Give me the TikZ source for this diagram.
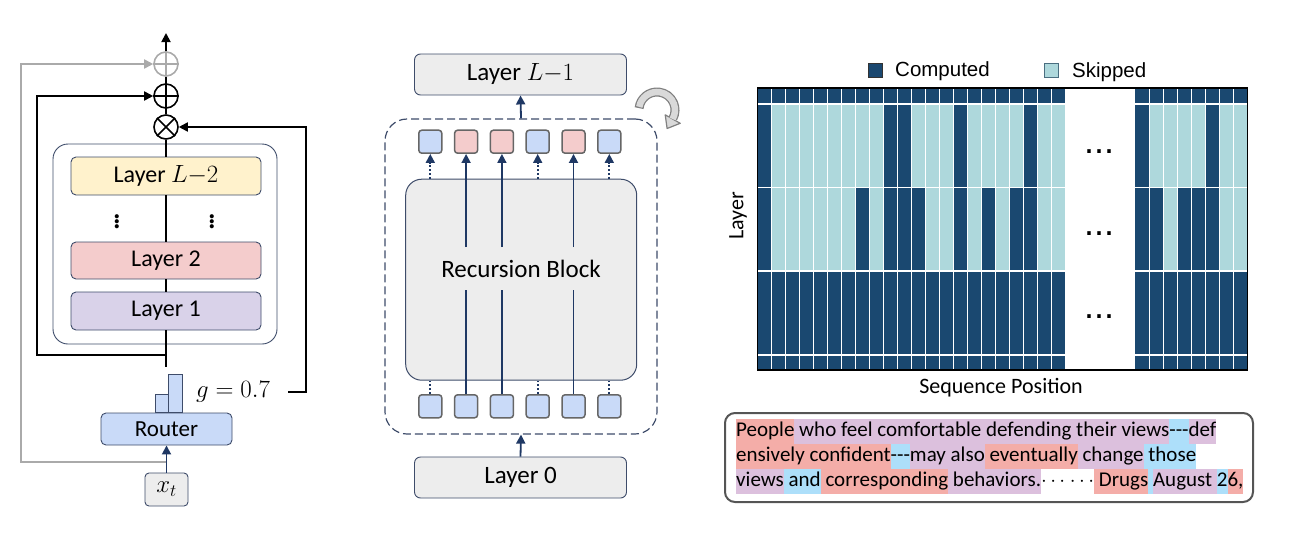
\documentclass[tikz,border=0pt]{standalone}
\usepackage{fontspec}
\setmainfont{Carlito}
\newfontfamily\arialf{Liberation Sans}
\usetikzlibrary{arrows.meta,calc}
\definecolor{navy}{HTML}{1F3864}
\definecolor{bdr}{HTML}{3E4C6A}
\definecolor{lgray}{HTML}{EDEDED}
\definecolor{lblue}{HTML}{C9DAF8}
\definecolor{lpink}{HTML}{F4CCCC}
\definecolor{lyel}{HTML}{FFF2CC}
\definecolor{llav}{HTML}{D9D2E9}
\definecolor{sqb}{HTML}{666666}
\definecolor{gdark}{HTML}{1A4870}
\definecolor{glight}{HTML}{AED8DC}
\definecolor{hsal}{HTML}{F4ADA8}
\definecolor{hlav}{HTML}{DCC0DD}
\definecolor{hblu}{HTML}{ADDFFA}
\definecolor{skipb}{HTML}{4A6E80}
\definecolor{rgray}{HTML}{AAAAAA}
\definecolor{rotout}{HTML}{808080}
\definecolor{rotin}{HTML}{D9D9D9}
\definecolor{tbframe}{HTML}{555555}
\newcommand{\hlt}[2]{{\setlength{\fboxsep}{0pt}\colorbox{#1}{#2\strut}}}
\newcommand{\tdash}{-\kern0pt-\kern0pt-}
\begin{document}
\begin{tikzpicture}[x=1pt,y=-1pt,
  arr/.style={-{Triangle[length=9pt,width=9pt]}},
  lbox/.style={draw=bdr, line width=0.9pt, rounded corners=5pt, minimum width=190pt, minimum height=38pt, inner sep=0pt, font=\fontsize{24}{28}\selectfont},
  opc/.style={circle, draw, line width=1.6pt, minimum size=24pt, inner sep=0pt},
  mbox/.style={draw=bdr, fill=lgray, line width=0.9pt, rounded corners=6pt, minimum width=212pt, minimum height=41pt, inner sep=0pt, font=\fontsize{25}{30}\selectfont},
  tok/.style={draw=sqb, line width=1.5pt, rounded corners=3pt, minimum size=23pt, inner sep=0pt},
  conn/.style={navy, line width=1.8pt},
  blk/.style={black, line width=1.8pt},
  dotc/.style={navy, line width=1.8pt, dash pattern=on 2pt off 2pt},
  wline/.style={white, line width=1.4pt}]
\useasboundingbox (0,0) rectangle (1316,538);

% ---------------- left panel ----------------
\node[opc, draw=rgray] (pg) at (166,64) {};
\draw[rgray, line width=1.6pt] (pg.north)--(pg.south) (pg.west)--(pg.east);
\node[opc] (op) at (166,96) {};
\draw[line width=1.6pt] (op.north)--(op.south) (op.west)--(op.east);
\node[opc] (ot) at (166,127) {};
\draw[line width=1.6pt] (ot.north west)--(ot.south east) (ot.north east)--(ot.south west);

\node[draw=bdr, line width=0.9pt, rounded corners=15pt, minimum width=224pt, minimum height=200pt] (ob) at (165,244) {};
\node[lbox, fill=lyel] (l3) at (166,176) {Layer $L{-}2$};
\node[font=\fontsize{34}{40}\selectfont, inner sep=0pt] (d1) at (117,219) {$\vdots$};
\node[font=\fontsize{34}{40}\selectfont, inner sep=0pt] (d2) at (212,219) {$\vdots$};
\node[lbox, fill=lpink, minimum height=37pt] (l2) at (166,260.5) {Layer 2};
\node[lbox, fill=llav] (la) at (166,311) {Layer 1};

\coordinate (bot) at (166,367);
\coordinate (res) at (166,355);
\draw[blk] (ot.south) -- (l3.north);
\draw[blk] (l3.south) -- (l2.north);
\draw[blk] (l2.south) -- (la.north);
\draw[blk] (la.south) -- (bot);
\draw[blk, arr] (res) -- ++(-129,0) |- (op.west);
\draw[blk] (ot.north) -- (op.south);
\draw[blk] (op.north) -- (pg.south);
\coordinate (out) at (166,33);
\draw[blk, arr] (pg.north) -- (out);

\node[draw=bdr, fill=lblue, line width=0.8pt, minimum width=13pt, minimum height=18pt, inner sep=0pt] (bar1) at (161.5,403) {};
\node[draw=bdr, fill=lblue, line width=0.8pt, minimum width=14pt, minimum height=38pt, inner sep=0pt] (bar2) at (175,393) {};
\node[lbox, fill=lblue, minimum width=131pt, minimum height=32pt, font=\fontsize{23}{27}\selectfont] (rt) at (166.5,429) {Router};
\node[font=\fontsize{23}{27}\selectfont] (gl) at (233,392) {$g = 0.7$};
\coordinate (gs) at (288,392);
\draw[blk, arr] (gs) -- ++(18,0) |- (ot.east);

\node[draw=bdr, fill=lgray, line width=0.9pt, rounded corners=4pt, minimum width=43pt, minimum height=33pt, inner sep=0pt, font=\fontsize{24}{28}\selectfont] (xt) at (166.5,489.5) {$x_t$};
\draw[conn, arr] (xt.north) -- (rt.south);
\coordinate (gsrc) at (166,462);
\draw[rgray, line width=1.8pt, arr] (gsrc) -- ++(-145,0) |- (pg.west);

% ---------------- middle panel ----------------
\node[mbox] (lL) at (520.5,74.5) {Layer $L{-}1$};
\node[draw=bdr, line width=1.2pt, dash pattern=on 8pt off 4pt, rounded corners=22pt, minimum width=272pt, minimum height=315pt] (db) at (521,276.5) {};
\node[draw=bdr, fill=lgray, line width=1pt, rounded corners=16pt, minimum width=231pt, minimum height=201pt] (rb) at (521.2,279.7) {};
\node[font=\fontsize{25}{30}\selectfont] (rbt) at (521,269) {Recursion Block};
\node[mbox] (l0) at (520.5,477.5) {Layer 0};
\draw[conn, arr] (db.north) -- (lL.south);
\draw[conn, arr] (l0.north) -- (db.south);

\foreach \i/\c in {1/lblue,2/lpink,3/lpink,4/lblue,5/lpink,6/lblue}{
  \node[tok, fill=\c] (t\i) at (430.3+35.8*\i-35.8,141.7) {};
  \node[tok, fill=lblue] (b\i) at (430.3+35.8*\i-35.8,406.3) {};
}
\coordinate (gapb) at (0,290);
\coordinate (gapt) at (0,247);
\foreach \i in {2,3,5}{
  \draw[conn] (b\i.north) -- (b\i.north |- gapb);
  \draw[conn, arr] (t\i.south |- gapt) -- (t\i.south);
}
\foreach \i in {1,4,6}{
  \draw[dotc, arr] (t\i.south |- rb.north) -- (t\i.south);
  \draw[dotc] (b\i.north) -- (b\i.north |- rb.south);
}
% rotation arrow
\draw[line width=9pt, rotout] (657,110) ++(186:18) arc[start angle=186, end angle=388, radius=18];
\filldraw[fill=rotin, draw=rotout, line width=1.2pt, line join=round] (680.2,123.3) -- (667.1,128.5) -- (665.2,114.8) -- cycle;
\draw[line width=6.5pt, rotin] (657,110) ++(190:18) arc[start angle=190, end angle=390, radius=18];

% ---------------- right panel ----------------
\fill[gdark] (757.5,88) rectangle (1065.5,370);
\fill[gdark] (1135.3,88) rectangle (1247.3,370);
\foreach \v [count=\i from 0] in {1,0,0,0,0,0,0,0,0,1,1,0,0,0,1,0,0,0,0,1,0,0}
  {\ifnum\v=0 \fill[glight] (757.5+14*\i,104) rectangle ++(14,83.5);\fi}
\foreach \v [count=\i from 0] in {1,0,0,0,0,0,0,1,0,1,1,1,0,0,1,0,1,0,1,1,0,0}
  {\ifnum\v=0 \fill[glight] (757.5+14*\i,187.5) rectangle ++(14,83.5);\fi}
\foreach \v [count=\i from 0] in {1,0,0,0,0,1,0,0}
  {\ifnum\v=0 \fill[glight] (1135.3+14*\i,104) rectangle ++(14,83.5);\fi}
\foreach \v [count=\i from 0] in {1,1,0,1,1,1,0,0}
  {\ifnum\v=0 \fill[glight] (1135.3+14*\i,187.5) rectangle ++(14,83.5);\fi}
\foreach \k in {1,...,22} \draw[wline] (757.5+14*\k,88) -- ++(0,282);
\foreach \k in {1,...,7} \draw[wline] (1135.3+14*\k,88) -- ++(0,282);
\foreach \yy in {104,187.5,271,355}{
  \draw[wline] (757.5,\yy) -- (1066.5,\yy);
  \draw[wline] (1135.3,\yy) -- (1247.3,\yy);
}
\draw[line width=1.3pt] (757.5,88) rectangle (1247.3,370);
\foreach \yy/\nm in {153.5/e1,235.5/e2,318.5/e3}
  \node[anchor=base, font=\arialf\fontsize{36}{40}\selectfont, inner sep=0pt] (\nm) at (1099,\yy) {...};

% legend
\node[draw=black!80, fill=gdark, line width=0.6pt, minimum size=14pt, inner sep=0pt] (lc) at (875,70) {};
\node[anchor=base west, font=\arialf\fontsize{20.5}{24}\selectfont, inner sep=0pt] (lct) at (895,76.8) {Computed};
\node[draw=skipb, fill=glight, line width=0.8pt, minimum size=14pt, inner sep=0pt] (ls) at (1051,70) {};
\node[anchor=base west, font=\arialf\fontsize{20.5}{24}\selectfont, inner sep=0pt] (lst) at (1072,77) {Skipped};

\node[rotate=90, font=\fontsize{22}{26}\selectfont] (ylab) at (738,216) {Layer};
\node[font=\fontsize{22}{26}\selectfont] (xlab) at (1001,388) {Sequence Position};

% text box
\node[draw=tbframe, line width=2pt, rounded corners=10pt, minimum width=528pt, minimum height=89pt] (tbox) at (989,457.5) {};
\node[anchor=north west, inner sep=0pt, align=left, font=\fontsize{21}{25}\selectfont] (tx) at (736,418.3) {%
\hlt{hsal}{People}\hlt{hlav}{ who feel comfortable defending their views}\hlt{hblu}{\tdash}\hlt{hlav}{def}\\
\hlt{hsal}{ensively confident}\hlt{hblu}{\tdash}\hlt{hlav}{may also}\hlt{hsal}{ eventually}\hlt{hlav}{ change}\hlt{hblu}{ those}\\
\hlt{hlav}{views}\hlt{hblu}{ and}\hlt{hsal}{ corresponding}\hlt{hlav}{ behaviors.}$\cdots$ $\cdots$\hlt{hsal}{ Drugs}\hlt{hblu}{ }\hlt{hlav}{August }\hlt{hblu}{2}\hlt{hsal}{6,}};
\end{tikzpicture}
\end{document}
